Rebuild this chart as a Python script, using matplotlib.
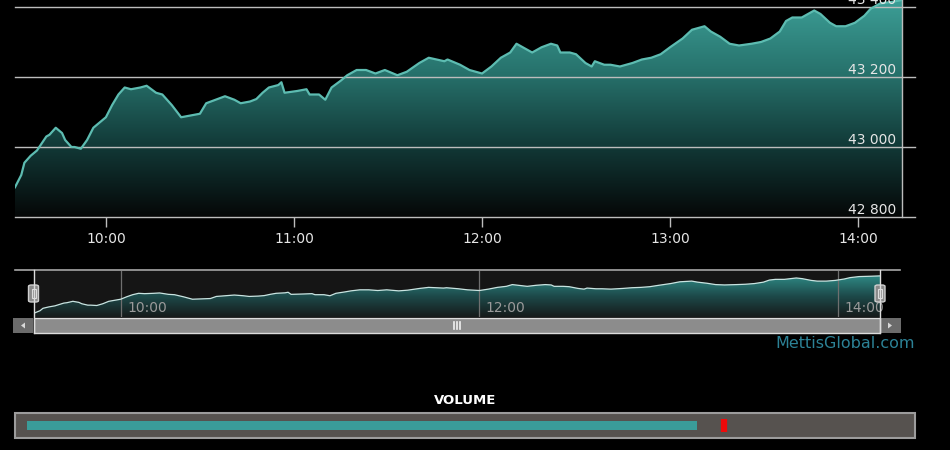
import numpy as np
import matplotlib
matplotlib.use("Agg")
import matplotlib.pyplot as plt
from matplotlib.colors import LinearSegmentedColormap
from matplotlib.patches import Polygon, Rectangle, FancyBboxPatch
from matplotlib.lines import Line2D
from matplotlib.ticker import FixedLocator, FuncFormatter

# intraday index level
times = ["09:31", "09:33", "09:34", "09:36", "09:38", "09:41", "09:42", "09:44", "09:46", "09:47",
         "09:49", "09:50", "09:52", "09:54", "09:56", "09:58", "10:00", "10:02", "10:04", "10:06",
         "10:08", "10:11", "10:13", "10:16", "10:18", "10:21", "10:24", "10:27", "10:30", "10:32",
         "10:35", "10:38", "10:41", "10:43", "10:46", "10:48", "10:50", "10:52", "10:55", "10:56",
         "10:57", "11:01", "11:04", "11:05", "11:08", "11:10", "11:12", "11:15", "11:17", "11:20",
         "11:23", "11:26", "11:29", "11:33", "11:36", "11:40", "11:43", "11:48", "11:49", "11:53",
         "11:56", "12:00", "12:03", "12:06", "12:09", "12:11", "12:13", "12:16", "12:19", "12:22",
         "12:24", "12:25", "12:28", "12:30", "12:33", "12:35", "12:36", "12:39", "12:41", "12:44",
         "12:48", "12:51", "12:54", "12:57", "13:00", "13:04", "13:07", "13:09", "13:11", "13:13",
         "13:16", "13:19", "13:22", "13:26", "13:29", "13:32", "13:35", "13:37", "13:39", "13:42",
         "13:44", "13:46", "13:48", "13:51", "13:53", "13:56", "13:59", "14:02", "14:04", "14:07",
         "14:11", "14:14"]
index_level = [42885, 42920, 42955, 42975, 42990, 43030, 43035, 43055, 43040, 43020,
               43000, 43000, 42995, 43020, 43055, 43070, 43085, 43120, 43150, 43170,
               43165, 43170, 43175, 43155, 43150, 43120, 43085, 43090, 43095, 43125,
               43135, 43145, 43135, 43125, 43130, 43137, 43155, 43170, 43177, 43185,
               43155, 43160, 43165, 43150, 43150, 43135, 43170, 43190, 43205, 43220,
               43220, 43210, 43220, 43205, 43215, 43240, 43255, 43245, 43250, 43235,
               43220, 43210, 43230, 43255, 43270, 43295, 43285, 43270, 43285, 43295,
               43290, 43270, 43270, 43265, 43240, 43230, 43245, 43235, 43235, 43230,
               43240, 43250, 43255, 43265, 43285, 43310, 43335, 43340, 43345, 43330,
               43315, 43295, 43290, 43295, 43300, 43310, 43330, 43360, 43370, 43370,
               43380, 43390, 43380, 43355, 43345, 43345, 43355, 43375, 43395, 43410,
               43415, 43420]

y_ticks = [42800, 43000, 43200, 43400]
x_ticks = ["10:00", "11:00", "12:00", "13:00", "14:00"]
nav_ticks = ["10:00", "12:00", "14:00"]
volume_today = 76.3    # % of scale
volume_marker = 79.4   # red reference mark


def to_min(s):
    h, m = s.split(":")
    return int(h) * 60 + int(m)


t = np.array([to_min(s) for s in times], dtype=float)
v = np.array(index_level, dtype=float)
W, H = 950, 450


def fx(x):
    return x / W


def fy(y):
    return 1 - y / H


fig = plt.figure(figsize=(9.5, 4.5), dpi=100, facecolor="black")

# ---------------- main chart ----------------
ax = fig.add_axes([fx(15), fy(217), 887 / W, 217 / H])
ax.set_facecolor("black")
ax.set_xlim(t[0], t[-1])
ax.set_ylim(42800, 43420)

main_cmap = LinearSegmentedColormap.from_list("m", ["#050707", "#123a38", "#27726c", "#3c9e96"])
poly = Polygon(np.column_stack([np.r_[t, t[-1], t[0]], np.r_[v, 42800, 42800]]),
               closed=True, facecolor="none", edgecolor="none")
ax.add_patch(poly)
grad = np.linspace(0, 1, 256).reshape(-1, 1)
im = ax.imshow(grad, extent=[t[0], t[-1], 42800, 43420], origin="lower",
               aspect="auto", cmap=main_cmap, zorder=1)
im.set_clip_path(poly)
ax.plot(t, v, color="#5dbcb1", lw=1.6, zorder=3)

for yt in y_ticks:
    ax.axhline(yt, xmin=0, xmax=(915 - 15) / 887, color="#bdbdbd", lw=1, clip_on=False, zorder=2)
    ax.annotate(f"{yt:,}".replace(",", " "), (1, yt), xycoords=("axes fraction", "data"),
                xytext=(-4.5, 2), textcoords="offset points", ha="right", va="baseline",
                color="#e6e6e6", fontsize=10, zorder=4, annotation_clip=False)

for s in ["top", "left", "bottom"]:
    ax.spines[s].set_visible(False)
ax.spines["right"].set_color("#bdbdbd")
ax.spines["right"].set_linewidth(1)
ax.set_yticks([])
ax.xaxis.set_major_locator(FixedLocator([to_min(s) for s in x_ticks]))
ax.xaxis.set_major_formatter(FuncFormatter(lambda x, p: f"{int(x)//60:02d}:{int(x)%60:02d}"))
ax.tick_params(axis="x", colors="#bdbdbd", length=7, width=1, pad=4,
               labelcolor="#e6e6e6", labelsize=10)

# ---------------- navigator ----------------
nav = fig.add_axes([fx(34), fy(317), (880 - 34) / W, 46 / H])
nav.set_facecolor("#151515")
nav.set_xlim(t[0], t[-1])
nav.set_ylim(42830, 43490)
nav_cmap = LinearSegmentedColormap.from_list("n", ["#161a1a", "#1d4a4a", "#2f8a86"])
npoly = Polygon(np.column_stack([np.r_[t, t[-1], t[0]], np.r_[v, 42830, 42830]]),
                closed=True, facecolor="none", edgecolor="none")
nav.add_patch(npoly)
nim = nav.imshow(grad, extent=[t[0], t[-1], 42830, v.max()], origin="lower",
                 aspect="auto", cmap=nav_cmap, zorder=1)
nim.set_clip_path(npoly)
nav.plot(t, v, color="#c9e4e1", lw=0.9, zorder=3)
for s in nav_ticks:
    nav.axvline(to_min(s), color="#6f6f6f", lw=0.9, zorder=2)
    nav.annotate(s, (to_min(s), 0), xycoords=("data", "axes fraction"), xytext=(4.5, 3.5),
                 textcoords="offset points", ha="left", va="baseline", color="#9a9a9a",
                 fontsize=10, zorder=4, annotation_clip=False)
for s in nav.spines.values():
    s.set_visible(False)
nav.set_xticks([])
nav.set_yticks([])

# top line of navigator
fig.add_artist(Line2D([fx(15), fx(900)], [fy(270), fy(270)], color="#a8a8a8", lw=1.2))

# scrollbar
fig.add_artist(Rectangle((fx(13), fy(333)), 20 / W, 15 / H, facecolor="#6b6b6b", edgecolor="none"))
fig.add_artist(Rectangle((fx(880), fy(333)), 21 / W, 15 / H, facecolor="#6b6b6b", edgecolor="none"))
fig.add_artist(Rectangle((fx(33.5), fy(333)), 846.5 / W, 15 / H, facecolor="#8c8c8c",
                         edgecolor="#dcdcdc", lw=1))
fig.add_artist(Polygon([[fx(21), fy(325.5)], [fx(25), fy(322.5)], [fx(25), fy(328.5)]],
                       closed=True, facecolor="#d8d8d8", edgecolor="none"))
fig.add_artist(Polygon([[fx(892), fy(325.5)], [fx(888), fy(322.5)], [fx(888), fy(328.5)]],
                       closed=True, facecolor="#d8d8d8", edgecolor="none"))
for gx in [454, 457, 460]:
    fig.add_artist(Line2D([fx(gx), fx(gx)], [fy(322), fy(329)], color="#f0f0f0", lw=1.2))

# handles
for hx in [33.5, 880]:
    fig.add_artist(Line2D([fx(hx), fx(hx)], [fy(270), fy(333)], color="#dcdcdc", lw=1))
    fig.add_artist(FancyBboxPatch((fx(hx - 5), fy(302)), 10 / W, 17 / H,
                                  boxstyle="round,pad=0,rounding_size=0.003",
                                  facecolor="#8a8a8a", edgecolor="#cfcfcf", lw=1))
    fig.add_artist(Rectangle((fx(hx - 2), fy(298)), 4 / W, 9 / H, facecolor="none",
                             edgecolor="#dddddd", lw=0.8))

fig.text(fx(915), fy(343), "MettisGlobal.com", ha="right", va="center",
         color="#2c8296", fontsize=11.5)

# ---------------- volume ----------------
fig.text(fx(465), fy(401), "VOLUME", ha="center", va="center", color="white",
         fontsize=9.5, fontweight="bold")
fig.add_artist(Rectangle((fx(15), fy(438)), 900 / W, 25 / H, facecolor="#56524f",
                         edgecolor="#9c9c9c", lw=1.5))
vax = fig.add_axes([fx(27), fy(438), 878 / W, 25 / H])
vax.set_zorder(5)
vax.patch.set_visible(False)
vax.set_xlim(0, 100)
vax.set_ylim(-1, 1)
vax.axis("off")
vax.barh(0, volume_today, height=0.72, color="#3a9c99")
vax.plot([volume_marker, volume_marker], [-0.52, 0.52], color="#ee0a0a", lw=4.5,
         solid_capstyle="butt")

fig.savefig("out.png", dpi=100, facecolor="black")
